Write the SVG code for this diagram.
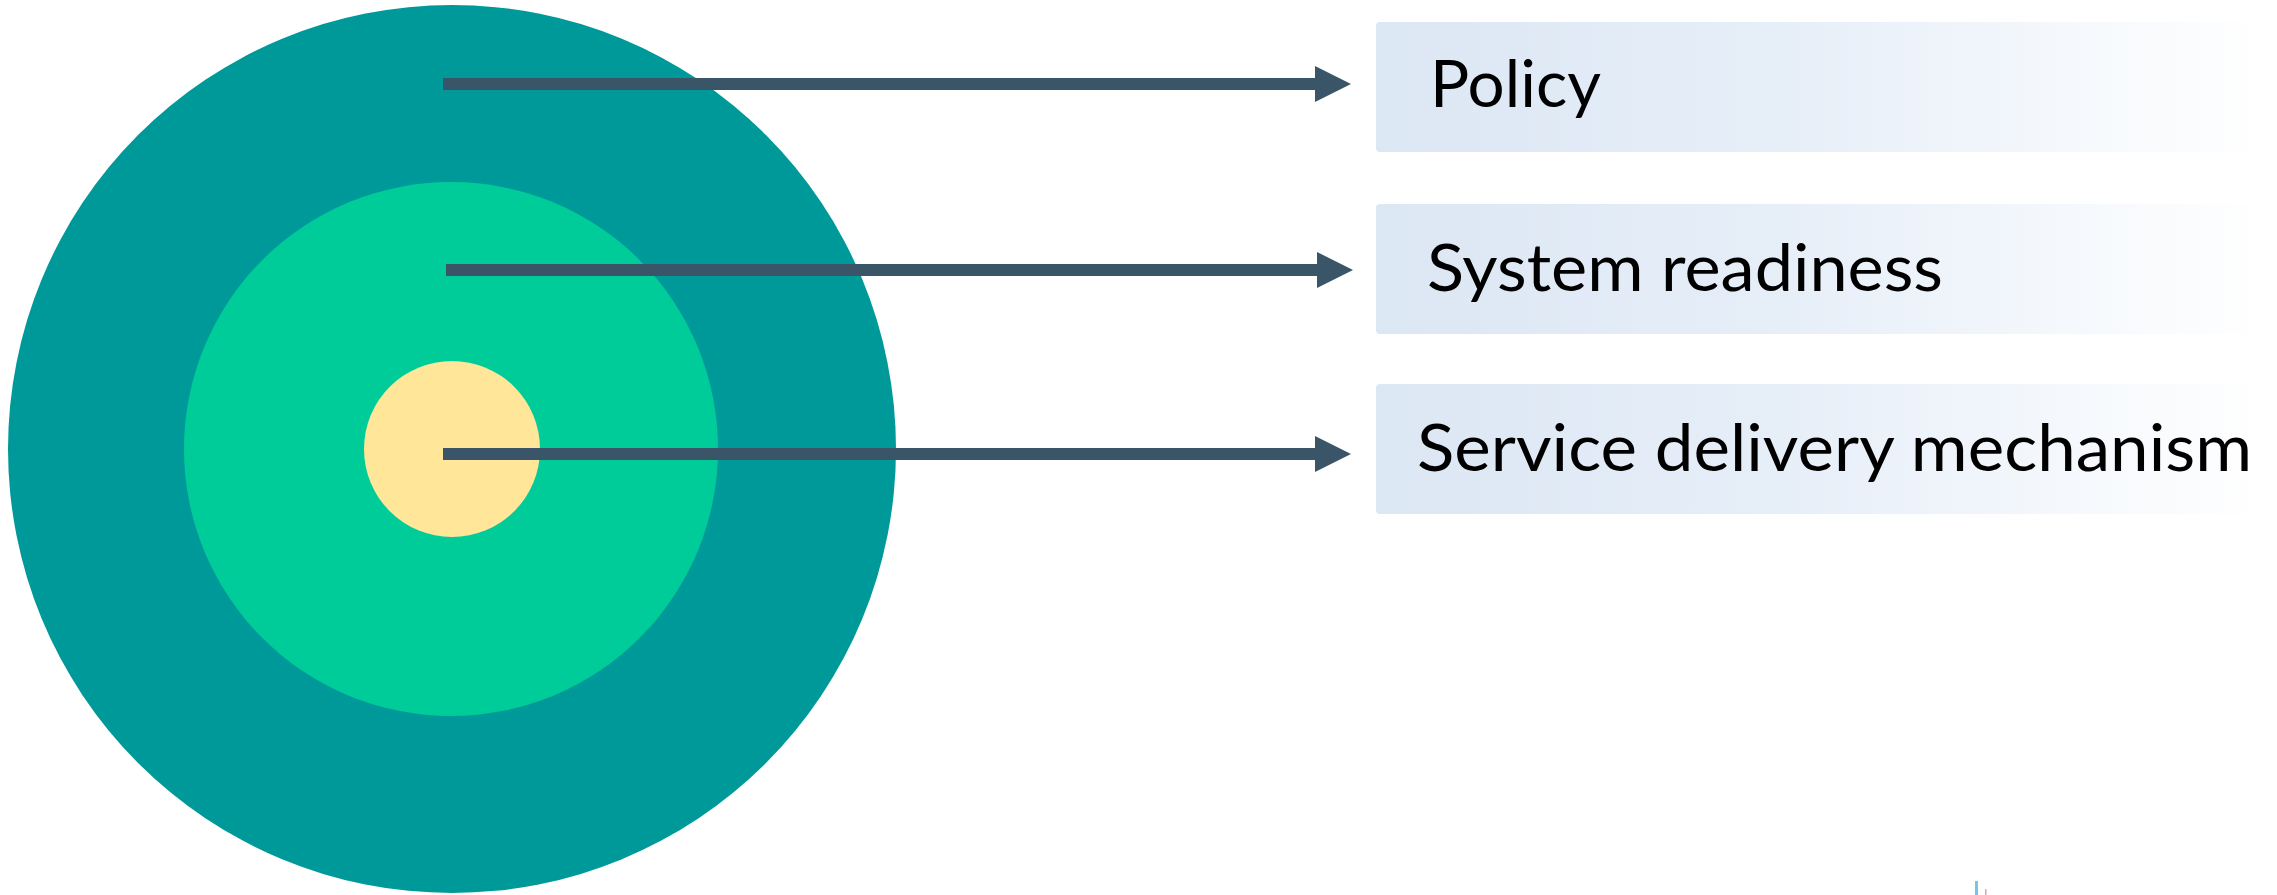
<svg xmlns="http://www.w3.org/2000/svg" width="2277" height="895" viewBox="0 0 2277 895">
<style>
.lbl{font-family:Lato,"Open Sans","Liberation Sans",sans-serif;font-size:66px;fill:#000}
.box{fill:url(#boxg)}
.arrow{fill:#3A5568}
</style>
<defs>
<linearGradient id="boxg" x1="0" y1="0" x2="1" y2="0">
<stop offset="0" stop-color="#DCE7F4"/>
<stop offset="0.45" stop-color="#E6EEF8"/>
<stop offset="1" stop-color="#FFFFFF"/>
</linearGradient>
</defs>
<rect width="2277" height="895" fill="#FFFFFF"/>
<g id="rings">
<circle id="ring-outer" cx="452" cy="449" r="444" fill="#009999"/>
<circle id="ring-middle" cx="451" cy="449" r="267" fill="#00CC99"/>
<circle id="ring-inner" cx="452" cy="449" r="88" fill="#FFE699"/>
</g>
<g id="node-policy">
<rect class="box" x="1376" y="22" width="890" height="130" rx="4"/>
<text class="lbl" x="1430" y="107" textLength="171" lengthAdjust="spacingAndGlyphs">Policy</text>
</g>
<g id="node-system">
<rect class="box" x="1376" y="204" width="890" height="130" rx="4"/>
<text class="lbl" x="1427" y="291" textLength="516" lengthAdjust="spacingAndGlyphs">System readiness</text>
</g>
<g id="node-service">
<rect class="box" x="1376" y="384" width="890" height="130" rx="4"/>
<text class="lbl" x="1417" y="471" textLength="835" lengthAdjust="spacingAndGlyphs">Service delivery mechanism</text>
</g>
<g id="connectors">
<path class="arrow" d="M443 78 H1315 V66 L1351 84 L1315 102 V90 H443 Z"/>
<path class="arrow" d="M446 264 H1317 V252 L1353 270 L1317 288 V276 H446 Z"/>
<path class="arrow" d="M443 448 H1315 V436 L1351 454 L1315 472 V460 H443 Z"/>
</g>
<rect x="1975" y="881" width="3" height="14" fill="#4FB8E0" opacity="0.8"/>
<rect x="1985" y="889" width="1.5" height="6" fill="#F07AB8" opacity="0.8"/>
</svg>
